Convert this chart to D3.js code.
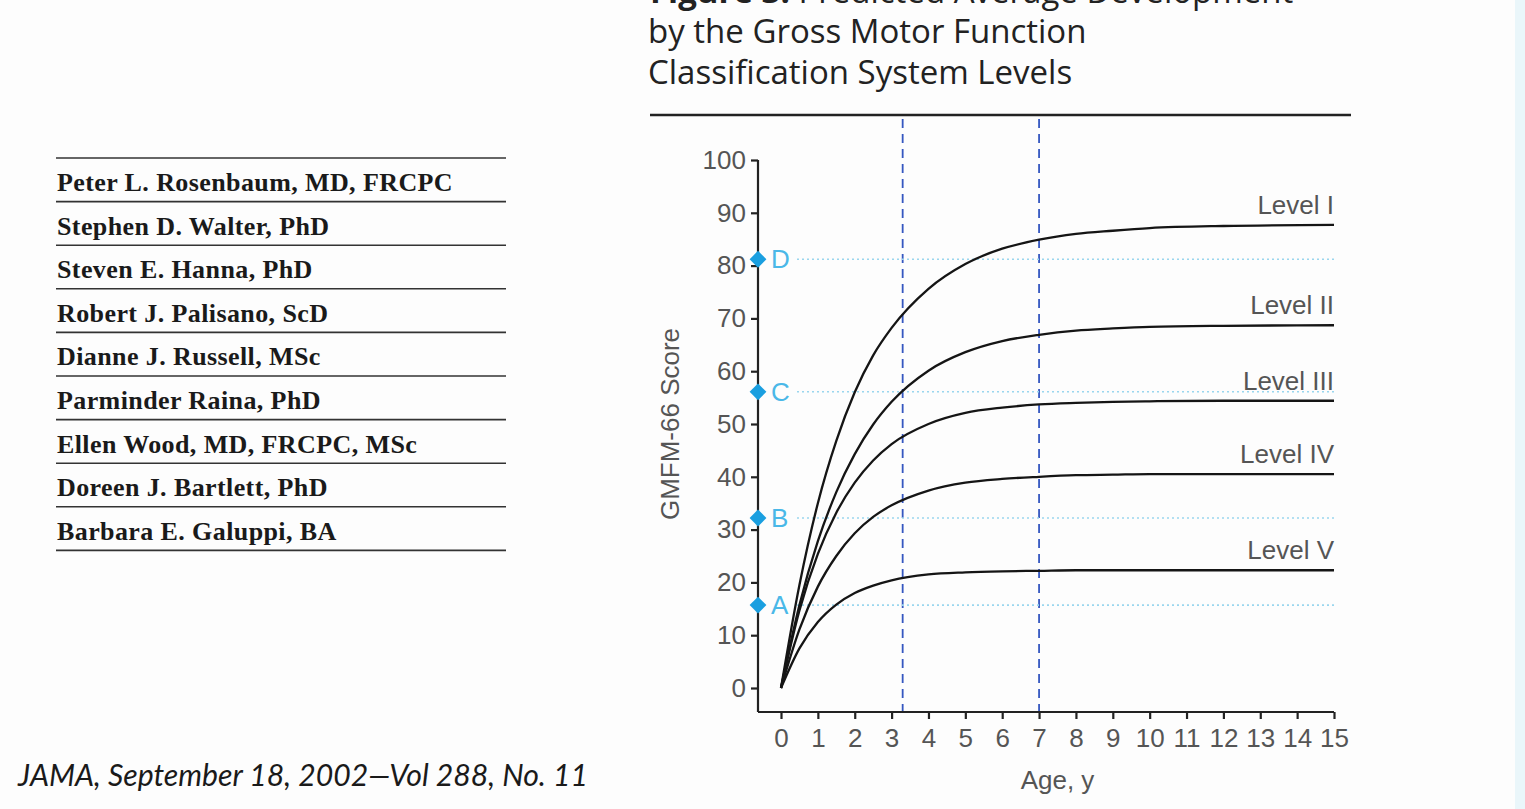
<!DOCTYPE html>
<html lang="en">
<head>
    <meta charset="UTF-8">
    <title>GMFCS Predicted Average Development</title>
    <script src="https://d3js.org/d3.v7.min.js"></script>
    <style>
        body {
            margin: 0;
            overflow: hidden;
            background: #fdfdfd;
        }

        svg {
            display: block;
        }

        .axis-label {
            font-family: 'Liberation Sans', Arial, sans-serif;
            font-size: 26px;
            fill: #555;
        }

        .title {
            font-family: 'Open Sans', sans-serif;
            font-size: 33px;
            fill: #222;
        }

        .author {
            font-family: 'Liberation Serif', 'Times New Roman', serif;
            font-weight: bold;
            font-size: 26px;
            letter-spacing: 0.4px;
            fill: #1a1a1a;
        }
    </style>
</head>
<body>
    <svg></svg>

    <script>
        // Page data
        const titleLines = ["by the Gross Motor Function", "Classification System Levels"];
        const authors = [
            "Peter L. Rosenbaum, MD, FRCPC",
            "Stephen D. Walter, PhD",
            "Steven E. Hanna, PhD",
            "Robert J. Palisano, ScD",
            "Dianne J. Russell, MSc",
            "Parminder Raina, PhD",
            "Ellen Wood, MD, FRCPC, MSc",
            "Doreen J. Bartlett, PhD",
            "Barbara E. Galuppi, BA"
        ];
        const citation = "JAMA, September 18, 2002\u2014Vol 288, No. 11";

        // Chart data
        const ages   = [0, 0.5, 1, 1.5, 2, 2.5, 3, 4, 5, 6, 7, 8, 9, 10, 12, 15];
        const level1 = [0, 19.5, 35.0, 46.8, 56.0, 63.0, 68.2, 75.6, 80.3, 83.2, 84.9, 86.0, 86.6, 87.1, 87.5, 87.7];
        const level2 = [0, 15.7, 27.8, 37.1, 44.3, 49.9, 54.2, 60.1, 63.6, 65.7, 66.9, 67.7, 68.1, 68.4, 68.6, 68.7];
        const level3 = [0, 14.7, 25.4, 33.2, 38.9, 43.1, 46.2, 50.0, 52.1, 53.1, 53.7, 54.0, 54.2, 54.3, 54.4, 54.4];
        const level4 = [0, 11.1, 19.2, 25.0, 29.3, 32.4, 34.6, 37.4, 38.9, 39.6, 40.0, 40.3, 40.4, 40.5, 40.5, 40.5];
        const level5 = [0, 7.5, 12.5, 15.8, 18.0, 19.4, 20.4, 21.5, 21.9, 22.1, 22.2, 22.3, 22.3, 22.3, 22.3, 22.3];
        const levelNames = ["Level I", "Level II", "Level III", "Level IV", "Level V"];
        const levels = [level1, level2, level3, level4, level5];

        const markerLabels = ["A", "B", "C", "D"];
        const markerValues = [15.7, 32.2, 56.1, 81.2];
        const refAges = [3.3, 7];

        const yTicks = d3.range(0, 101, 10);
        const xTicks = d3.range(0, 16, 1);

        const width = 1525, height = 809;
        const svg = d3.select("svg").attr("width", width).attr("height", height);

        // light strip on the right edge
        svg.append("rect")
            .attr("x", 1515).attr("y", 0)
            .attr("width", 10).attr("height", height)
            .attr("fill", "#eaf6fa");

        // Authors table
        const authorTop = 158, rowH = 43.6;
        const tbl = svg.append("g");
        tbl.selectAll("line")
            .data(d3.range(authors.length + 1))
            .enter().append("line")
            .attr("x1", 56).attr("x2", 506)
            .attr("y1", i => authorTop + i * rowH)
            .attr("y2", i => authorTop + i * rowH)
            .attr("stroke", "#333")
            .attr("stroke-width", 1.6);
        tbl.selectAll("text")
            .data(authors)
            .enter().append("text")
            .attr("class", "author")
            .attr("x", 57)
            .attr("y", (d, i) => authorTop + i * rowH + 33)
            .text(d => d);

        // Citation
        svg.append("text")
            .attr("x", 18).attr("y", 786)
            .attr("font-family", "Lato, 'Open Sans', sans-serif")
            .attr("font-style", "italic")
            .attr("font-size", 30)
            .attr("fill", "#1a1a1a")
            .attr("textLength", 570)
            .attr("lengthAdjust", "spacingAndGlyphs")
            .text(citation);

        // Title (first line is cut by the top edge, as in the source)
        const firstLine = svg.append("text")
            .attr("class", "title")
            .attr("x", 650).attr("y", 3);
        firstLine.append("tspan").attr("font-weight", "bold").text("Figure 3. ");
        firstLine.append("tspan").text("Predicted Average Development");

        svg.selectAll(".title-line")
            .data(titleLines)
            .enter().append("text")
            .attr("class", "title title-line")
            .attr("x", 648)
            .attr("y", (d, i) => 43 + i * 41)
            .text(d => d);

        svg.append("line")
            .attr("x1", 650).attr("x2", 1351)
            .attr("y1", 115).attr("y2", 115)
            .attr("stroke", "#222")
            .attr("stroke-width", 2.5);

        // Scales
        const x = d3.scaleLinear().domain([0, 15]).range([781, 1334]);
        const y = d3.scaleLinear().domain([0, 100]).range([688, 160]);
        const axisX = 758, axisY = 712;

        // Reference dashed lines
        svg.selectAll(".ref")
            .data(refAges)
            .enter().append("line")
            .attr("class", "ref")
            .attr("x1", d => x(d)).attr("x2", d => x(d))
            .attr("y1", 119).attr("y2", axisY)
            .attr("stroke", "#3557c0")
            .attr("stroke-width", 1.8)
            .attr("stroke-dasharray", "9,6");

        // Marker dotted lines
        svg.selectAll(".mline")
            .data(markerValues)
            .enter().append("line")
            .attr("class", "mline")
            .attr("x1", 797).attr("x2", x(15))
            .attr("y1", d => y(d)).attr("y2", d => y(d))
            .attr("stroke", "#9ad6ee")
            .attr("stroke-width", 1.6)
            .attr("stroke-dasharray", "2,3");

        // Y axis
        const yAxis = svg.append("g")
            .attr("transform", `translate(${axisX},0)`)
            .call(d3.axisLeft(y).tickValues(yTicks).tickSize(7).tickPadding(5));
        yAxis.select(".domain").attr("d", `M0,${y(100)}V${axisY}`);

        // X axis
        const xAxis = svg.append("g")
            .attr("transform", `translate(0,${axisY})`)
            .call(d3.axisBottom(x).tickValues(xTicks).tickSize(7).tickPadding(10));
        xAxis.select(".domain").attr("d", `M${axisX},0H${x(15)}`);

        [yAxis, xAxis].forEach(g => {
            g.select(".domain").attr("stroke", "#222").attr("stroke-width", 2.2);
            g.selectAll(".tick line").attr("stroke", "#222").attr("stroke-width", 2.2);
            g.selectAll(".tick text").attr("class", "axis-label").attr("fill", "#555");
        });

        // Axis titles
        svg.append("text")
            .attr("class", "axis-label")
            .attr("font-size", 32)
            .attr("text-anchor", "middle")
            .attr("transform", `translate(679,${y(50)}) rotate(-90)`)
            .text("GMFM-66 Score");

        svg.append("text")
            .attr("class", "axis-label")
            .attr("font-size", 32)
            .attr("text-anchor", "middle")
            .attr("x", x(7.5)).attr("y", 789)
            .text("Age, y");

        // Curves
        const line = d3.line()
            .x((d, i) => x(ages[i]))
            .y(d => y(d))
            .curve(d3.curveMonotoneX);

        svg.selectAll(".curve")
            .data(levels)
            .enter().append("path")
            .attr("class", "curve")
            .attr("d", line)
            .attr("fill", "none")
            .attr("stroke", "#151515")
            .attr("stroke-width", 2.3);

        svg.selectAll(".level-label")
            .data(levels)
            .enter().append("text")
            .attr("class", "axis-label level-label")
            .attr("font-size", 20)
            .attr("text-anchor", "end")
            .attr("x", x(15))
            .attr("y", d => y(d[d.length - 1]) - 11)
            .text((d, i) => levelNames[i]);

        // Markers
        const diamond = d3.symbol().type(d3.symbolDiamond2).size(180);
        svg.selectAll(".marker")
            .data(markerValues)
            .enter().append("path")
            .attr("class", "marker")
            .attr("transform", d => `translate(${axisX},${y(d)})`)
            .attr("d", diamond)
            .attr("fill", "#1a9fe0");

        svg.selectAll(".mlabel")
            .data(markerValues)
            .enter().append("text")
            .attr("class", "axis-label mlabel")
            .attr("font-size", 24)
            .attr("x", 771)
            .attr("y", d => y(d) + 9)
            .style("fill", "#4ab8e8")
            .text((d, i) => markerLabels[i]);
    </script>
</body>
</html>
